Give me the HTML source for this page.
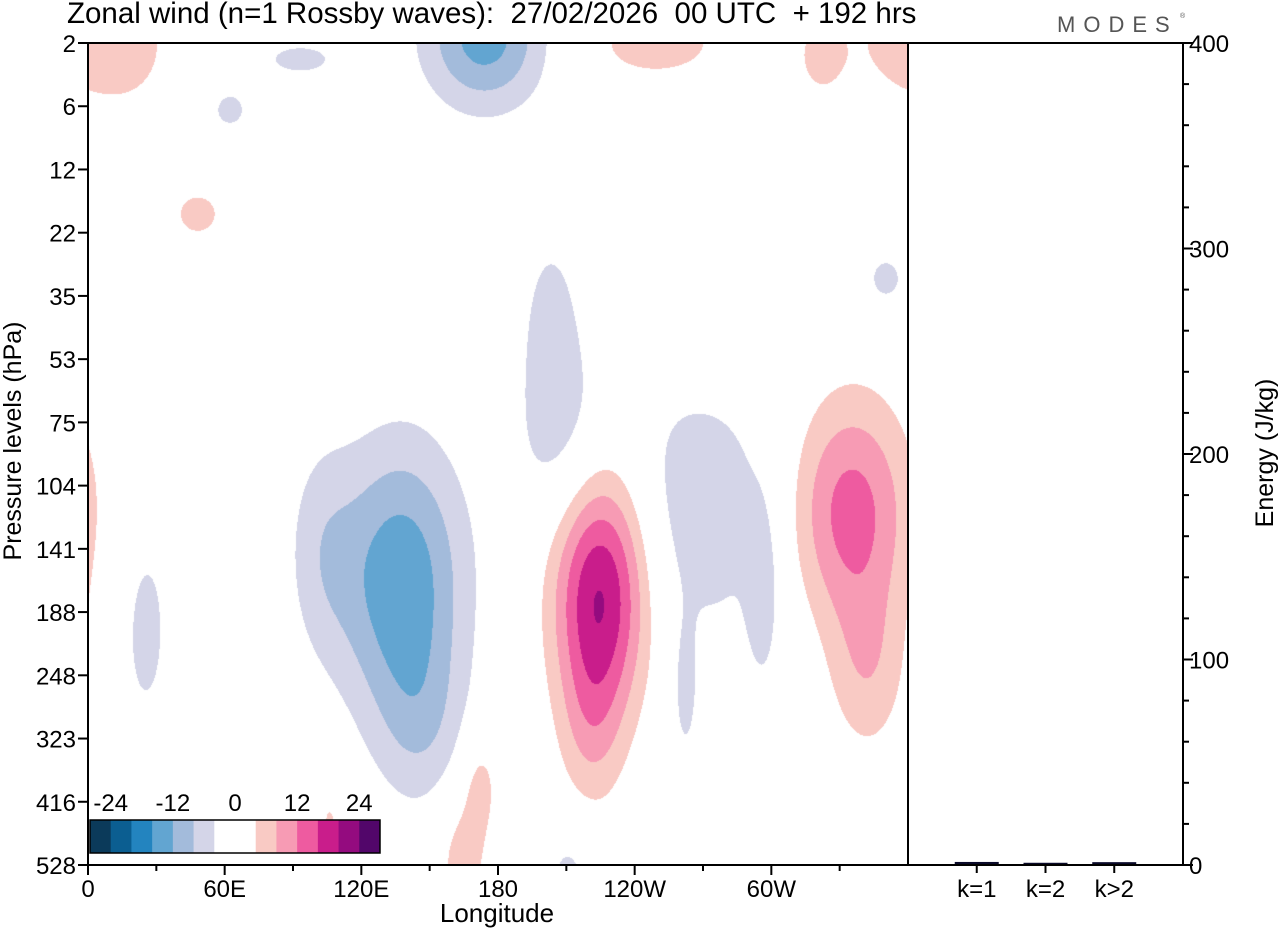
<!DOCTYPE html>
<html><head><meta charset="utf-8"><style>
html,body{margin:0;padding:0;background:#fff;}
#wrap{position:relative;width:1280px;height:930px;overflow:hidden;font-family:"Liberation Sans",Arial,sans-serif;}
#field{position:absolute;left:88px;top:43px;}
#ov{position:absolute;left:0;top:0;}
</style></head><body>
<div id="wrap">
<canvas id="field" width="820" height="822"></canvas>
<svg id="ov" width="1280" height="930"></svg>
</div>
<script>
// ---- data ----
const pressureLevels = ["2","6","12","22","35","53","75","104","141","188","248","323","416","528"];
const lonTicks = [0,60,120,180,240,300];
const lonLabels = ["0","60E","120E","180","120W","60W"];
const contourBounds = [-24,-20,-16,-12,-8,-4,0,4,8,12,16,20,24];
const contourColors = ["#0b3a5a","#0b5e91","#2384bf","#62a5d1","#a3bbdb","#d4d5e8","#ffffff","#ffffff","#f9cac4","#f79bb4","#ee5ba0","#c91d8b","#940b7f","#52066a"];
const legendLabels = ["-24","-12","0","12","24"];
const legendLabelValues = [-24,-12,0,12,24];
// anomaly centres: lon (deg E), level index, amplitude (m/s), width lon (deg), width level
const blobLon = [137,102,146,225,221,334,342,203,208,266,262,296,174,93,18,356,322,249,48,62,25,350,172,164,211,106];
const blobLev = [8.5,8.0,10.8,8.6,10.8,7.4,9.9,4.4,6.3,7.4,10.3,8.7,-0.1,0.25,0.0,0.0,0.2,0.0,2.7,1.05,9.25,3.73,11.7,12.9,13.1,12.3];
const blobAmp = [-15,-5,-5.5,22,6,14.5,6.5,-5,-5.2,-6.5,-5,-5.5,-14,-5,5.0,4.8,5,5.5,5,-5,-5,-5,5.5,6,-5,4.6];
const blobSLon = [20,11,14,15,10,19,12,10,14,34,4,5,19,16,16,14,10,26,11,8,10,8.5,6,8,8,4];
const blobSLev = [1.55,1.2,1.0,1.4,1.0,1.3,1.0,1.2,1.1,1.6,0.8,1.0,0.8,0.26,0.85,0.6,0.6,0.5,0.39,0.31,1.5,0.4,0.6,0.7,0.55,0.4];
const energyCats = ["k=1","k=2","k>2"];
const energyVals = [1.0,0.6,0.9];
const energyTicks = [0,100,200,300,400];

// ---- scales ----
const X0=88,X1=908,Y0=43,Y1=865,RX1=1183;
const xLon = l => X0 + l/360*(X1-X0);
const yLev = i => Y0 + i*(Y1-Y0)/(pressureLevels.length-1);
const yE = v => Y1 - v/400*(Y1-Y0);

// ---- field ----
const cv=document.getElementById('field'), ctx=cv.getContext('2d');
const W=820,H=822, img=ctx.createImageData(W,H);
const rgb=contourColors.map(c=>[parseInt(c.slice(1,3),16),parseInt(c.slice(3,5),16),parseInt(c.slice(5,7),16)]);
for(let py=0;py<H;py++){
  const lev=py/(H)*(pressureLevels.length-1);
  for(let px=0;px<W;px++){
    const lon=px/W*360;
    let v=0;
    for(let b=0;b<blobLon.length;b++){
      let dl=((lon-blobLon[b]+540)%360)-180;
      let dv=lev-blobLev[b];
      v+=blobAmp[b]*Math.exp(-0.5*(dl*dl/(blobSLon[b]*blobSLon[b])+dv*dv/(blobSLev[b]*blobSLev[b])));
    }
    let k=0; while(k<contourBounds.length && v>=contourBounds[k]) k++;
    const c=rgb[k], o=(py*W+px)*4;
    img.data[o]=c[0];img.data[o+1]=c[1];img.data[o+2]=c[2];img.data[o+3]=255;
  }
}
ctx.putImageData(img,0,0);

// ---- svg ----
const svg=document.getElementById('ov'), NS='http://www.w3.org/2000/svg';
function mk(tag,attrs,parent){const e=document.createElementNS(NS,tag);for(const k in attrs)e.setAttribute(k,attrs[k]);(parent||svg).appendChild(e);return e;}
function txt(s,attrs,name){const e=mk('text',Object.assign({'font-size':24,fill:'#000','font-family':'Liberation Sans, Arial, sans-serif'},attrs));e.textContent=s;


return e;}

// title and logo
const tt=txt("Zonal wind (n=1 Rossby waves):  27/02/2026  00 UTC  + 192 hrs",{x:67,y:23,'font-size':29.5},'chart-title');
tt.style.whiteSpace='pre';
txt("MODES",{x:1057,y:32,'font-size':22,fill:'#555','letter-spacing':'8'},'modes-logo');
txt("®",{x:1180,y:18,'font-size':7,fill:'#555'},'modes-logo-mark');

// frames
const f1=mk('rect',{x:X0,y:Y0,width:X1-X0,height:Y1-Y0,fill:'none',stroke:'#000','stroke-width':2});


const f2=mk('rect',{x:X1,y:Y0,width:RX1-X1,height:Y1-Y0,fill:'none',stroke:'#000','stroke-width':2});



// left axis
pressureLevels.forEach((p,i)=>{
  const y=yLev(i);
  const t=mk('line',{x1:X0-10,x2:X0,y1:y,y2:y,stroke:'#000','stroke-width':2});
  
  
  txt(p,{x:X0-12,y:y+9,'text-anchor':'end'},'pressure-tick-label');
});
txt("Pressure levels (hPa)",{x:0,y:0,'text-anchor':'middle',transform:'translate(21,441) rotate(-90)','font-size':25},'y-axis-title');

// bottom axis
for(let l=0;l<=330;l+=30){
  const major=l%60===0;
  const t=mk('line',{x1:xLon(l),x2:xLon(l),y1:Y1,y2:Y1+(major?10:6),stroke:'#000','stroke-width':2});
  
  
}
lonTicks.forEach((l,i)=>txt(lonLabels[i],{x:xLon(l),y:897,'text-anchor':'middle'},'longitude-tick-label'));
txt("Longitude",{x:497,y:922,'text-anchor':'middle','font-size':26},'x-axis-title');

// right axis
for(let v=0;v<=400;v+=20){
  const major=v%100===0;
  const t=mk('line',{x1:RX1,x2:RX1+(major?10:6),y1:yE(v),y2:yE(v),stroke:'#000','stroke-width':2});
  
  
}
energyTicks.forEach(v=>txt(String(v),{x:RX1+6,y:yE(v)+9},'energy-tick-label'));
txt("Energy (J/kg)",{x:0,y:0,'text-anchor':'middle',transform:'translate(1273,453) rotate(-90)','font-size':25},'energy-axis-title');

// energy bars
const catX = i => X1 + (RX1-X1)*(0.25+0.25*i);
energyCats.forEach((c,i)=>{
  const x=catX(i);
  const b=mk('rect',{x:x-22,y:yE(energyVals[i])-1,width:44,height:Math.max(1,Y1-yE(energyVals[i])),fill:'#0a0a2a'});
  
  
  const t=mk('line',{x1:x,x2:x,y1:Y1,y2:Y1+8,stroke:'#000','stroke-width':2});
  
  
  txt(c,{x:x,y:897,'text-anchor':'middle'},'wavenumber-label');
});

// legend colorbar
const LX=90,LY=820,LW=290,LH=33,bw=LW/contourColors.length;
const lg=mk('g',{});


contourColors.forEach((c,i)=>{
  const r=mk('rect',{x:LX+i*bw,y:LY,width:bw+0.5,height:LH,fill:c},lg);
  
  
});
mk('rect',{x:LX,y:LY,width:LW,height:LH,fill:'none',stroke:'#000','stroke-width':1.5},lg);
const legX = v => LX + (v+28)/56*LW;
legendLabels.forEach((s,i)=>txt(s,{x:legX(legendLabelValues[i]),y:811,'text-anchor':'middle'},'colorbar-label'));
</script>
</body></html>
